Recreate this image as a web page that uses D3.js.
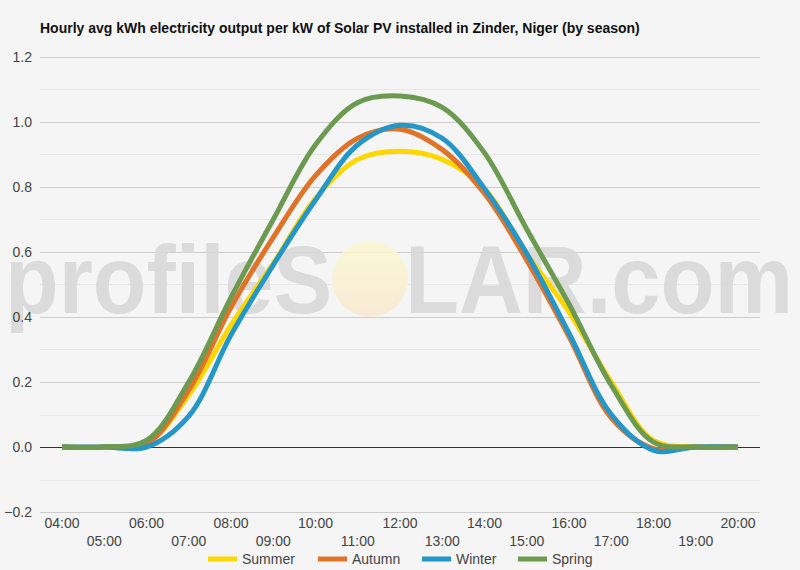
<!DOCTYPE html>
<html>
<head>
<meta charset="utf-8">
<script src="https://cdn.jsdelivr.net/npm/d3@7"></script>
<style>
  body { margin: 0; background: #f5f5f5; }
  svg { display: block; font-family: Arial, "Liberation Sans", sans-serif; }
</style>
</head>
<body>
<div id="graph"></div>
<script>
// Hourly values (kWh per kW)
const hours = ['04:00', '05:00', '06:00', '07:00', '08:00', '09:00', '10:00', '11:00', '12:00',
  '13:00', '14:00', '15:00', '16:00', '17:00', '18:00', '19:00', '20:00']
const summer = [0, 0, 0.01, 0.16, 0.375, 0.565, 0.765, 0.885, 0.91, 0.885, 0.795, 0.595, 0.415, 0.20, 0.02, 0, 0]
const autumn = [0, 0, 0.01, 0.175, 0.43, 0.645, 0.835, 0.95, 0.978, 0.915, 0.78, 0.575, 0.34, 0.09, -0.005, 0, 0]
const winter = [0, 0, 0, 0.095, 0.345, 0.56, 0.76, 0.93, 0.99, 0.95, 0.795, 0.595, 0.35, 0.10, -0.01, 0, 0]
const spring = [0, 0, 0.02, 0.2, 0.46, 0.70, 0.93, 1.06, 1.08, 1.045, 0.905, 0.67, 0.44, 0.19, 0.015, 0, 0]
const seriesNames = ['Summer', 'Autumn', 'Winter', 'Spring']
const seriesColors = ['#ffd700', '#e07328', '#2596c8', '#6b9a50']
const yTicks = [-0.2, 0, 0.2, 0.4, 0.6, 0.8, 1.0, 1.2]

const W = 800, H = 570
const margin = { top: 57, right: 40, bottom: 58, left: 40 }

const svg = d3.select('#graph')
  .append('svg')
  .attr('width', W)
  .attr('height', H)

svg.append('rect').attr('width', W).attr('height', H).attr('fill', '#f5f5f5')

// hours as numbers for the x scale
const hourNum = hours.map(h => +h.slice(0, 2))
const x = d3.scaleLinear()
  .domain([hourNum[0], hourNum[hourNum.length - 1]])
  .range([62, 738])
const y = d3.scaleLinear()
  .domain([-0.2, 1.2])
  .range([H - margin.bottom, margin.top])

// Title
svg.append('text')
  .attr('x', 40)
  .attr('y', 33)
  .style('font-size', '14px')
  .style('font-weight', 'bold')
  .attr('fill', '#111')
  .text('Hourly avg kWh electricity output per kW of Solar PV installed in Zinder, Niger (by season)')

// Minor gridlines (every 0.1)
const minor = d3.range(-0.1, 1.2, 0.2)
svg.append('g').selectAll('line')
  .data(minor)
  .join('line')
  .attr('x1', margin.left).attr('x2', W - margin.right)
  .attr('y1', d => Math.round(y(d)) + 0.5).attr('y2', d => Math.round(y(d)) + 0.5)
  .attr('stroke', '#e8e8e8')

// Major gridlines
svg.append('g').selectAll('line')
  .data(yTicks)
  .join('line')
  .attr('x1', margin.left).attr('x2', W - margin.right)
  .attr('y1', d => Math.round(y(d)) + 0.5).attr('y2', d => Math.round(y(d)) + 0.5)
  .attr('stroke', d => d === 0 ? '#333' : '#cccccc')

// Watermark
const wm = svg.append('g').attr('opacity', 0.9)
const sunGrad = svg.append('defs').append('linearGradient')
  .attr('id', 'sun').attr('x1', 0).attr('y1', 0).attr('x2', 0).attr('y2', 1)
sunGrad.append('stop').attr('offset', '0%').attr('stop-color', '#fbf8d2')
sunGrad.append('stop').attr('offset', '100%').attr('stop-color', '#f9ead2')
wm.append('circle').attr('cx', 370).attr('cy', 279).attr('r', 38).attr('fill', 'url(#sun)')
wm.append('text')
  .attr('x', 5).attr('y', 313)
  .style('font-size', '96px')
  .style('font-weight', 'bold')
  .attr('textLength', 327)
  .attr('lengthAdjust', 'spacingAndGlyphs')
  .attr('fill', '#d9d9d9')
  .text('profileS')
wm.append('text')
  .attr('x', 405).attr('y', 313)
  .style('font-size', '96px')
  .style('font-weight', 'bold')
  .attr('textLength', 388)
  .attr('lengthAdjust', 'spacingAndGlyphs')
  .attr('fill', '#d9d9d9')
  .text('LAR.com')

// Y axis labels
svg.append('g').selectAll('text')
  .data(yTicks)
  .join('text')
  .attr('x', 32)
  .attr('y', d => y(d) + 5)
  .attr('text-anchor', 'end')
  .style('font-size', '14px')
  .attr('fill', '#444')
  .text(d => d3.format('.1f')(d))

// X axis labels, alternating rows
svg.append('g').selectAll('text')
  .data(hours)
  .join('text')
  .attr('x', (d, i) => x(hourNum[i]))
  .attr('y', (d, i) => i % 2 === 0 ? 528 : 546)
  .attr('text-anchor', 'middle')
  .style('font-size', '14px')
  .attr('fill', '#444')
  .text(d => d)

// Lines
const allSeries = [summer, autumn, winter, spring]
const line = d3.line()
  .x((d, i) => x(hourNum[i]))
  .y(d => y(d))
  .curve(d3.curveCatmullRom.alpha(0.5))

svg.append('g').selectAll('path')
  .data(allSeries)
  .join('path')
  .attr('fill', 'none')
  .attr('stroke', (d, i) => seriesColors[i])
  .attr('stroke-width', 5)
  .attr('stroke-linejoin', 'round')
  .attr('d', line)

// Legend
const legendX = [208, 318, 422, 518]
const legend = svg.append('g').selectAll('g')
  .data(seriesNames)
  .join('g')
  .attr('transform', (d, i) => 'translate(' + legendX[i] + ',559)')
legend.append('line')
  .attr('x1', 0).attr('x2', 29)
  .attr('stroke', (d, i) => seriesColors[i])
  .attr('stroke-width', 5)
legend.append('text')
  .attr('x', 34)
  .attr('y', 5)
  .style('font-size', '14px')
  .attr('fill', '#444')
  .text(d => d)
</script>
</body>
</html>
